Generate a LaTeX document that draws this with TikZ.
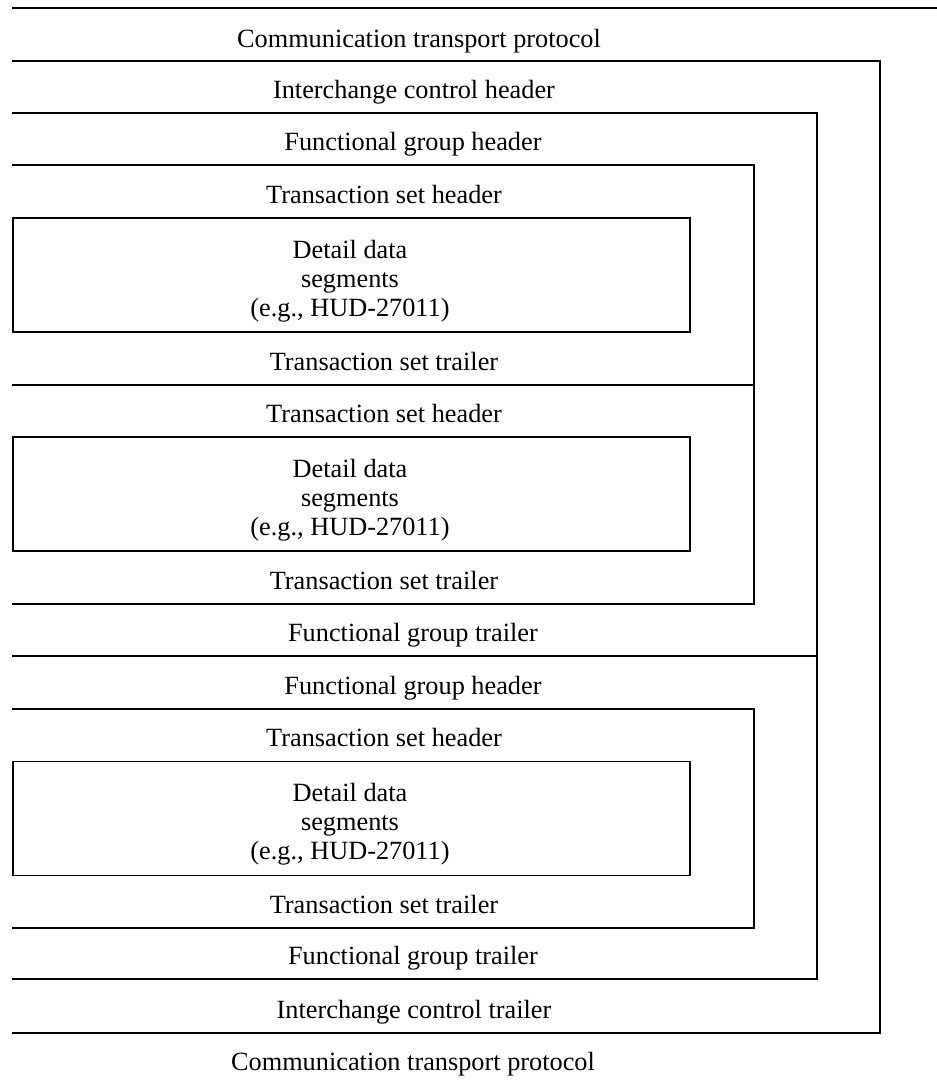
\documentclass[tikz,border=0pt]{standalone}
\usepackage{fontspec}
\setmainfont{Liberation Serif}
\begin{document}
\begin{tikzpicture}[x=1pt,y=-1pt,
  frame/.style={line width=1.4pt, line join=miter},
  lbl/.style={font=\fontsize{26.3}{29}\selectfont, anchor=base, inner sep=0pt},
  detailbox/.style={draw, line width=1.4pt, minimum width=677pt, minimum height=114pt, inner sep=0pt},
  detailtext/.style={font=\fontsize{26.3}{29}\selectfont, align=center, inner sep=0pt}]
\useasboundingbox (0,0) rectangle (937,1082);

% outer lines
\draw[frame] (12,8) -- (937,8);
% interchange
\draw[frame] (12,61) -- (880,61) -- (880,1033) -- (12,1033);
% functional groups
\draw[frame] (12,113) -- (817,113) -- (817,979) -- (12,979);
\draw[frame] (12,656) -- (817,656);
% transaction sets
\draw[frame] (12,165) -- (754,165) -- (754,604) -- (12,604);
\draw[frame] (12,385) -- (754,385);
\draw[frame] (12,709) -- (754,709) -- (754,928) -- (12,928);

% detail boxes
\node[detailbox] (d1) at (351.5,275) {};
\node[detailbox] (d2) at (351.5,494) {};
\node[detailbox] (d3) at (351.5,818.5) {};
\node[detailtext] (d1t) at (350,281) {Detail data\\segments\\(e.g., HUD-27011)};
\node[detailtext] (d2t) at (350,500) {Detail data\\segments\\(e.g., HUD-27011)};
\node[detailtext] (d3t) at (350,824.5) {Detail data\\segments\\(e.g., HUD-27011)};

% labels
\node[lbl] (ctp1) at (419,47) {Communication transport protocol};
\node[lbl] (ich) at (414,98.5) {Interchange control header};
\node[lbl] (fgh1) at (413,150.5) {Functional group header};
\node[lbl] (tsh1) at (384,203.5) {Transaction set header};
\node[lbl] (tst1) at (384,370.5) {Transaction set trailer};
\node[lbl] (tsh2) at (384,422.5) {Transaction set header};
\node[lbl] (tst2) at (384,589.5) {Transaction set trailer};
\node[lbl] (fgt1) at (413,641.5) {Functional group trailer};
\node[lbl] (fgh2) at (413,694.5) {Functional group header};
\node[lbl] (tsh3) at (384,746.5) {Transaction set header};
\node[lbl] (tst3) at (384,913.5) {Transaction set trailer};
\node[lbl] (fgt2) at (413,964.5) {Functional group trailer};
\node[lbl] (ict) at (414,1018.5) {Interchange control trailer};
\node[lbl] (ctp2) at (413,1070) {Communication transport protocol};
\end{tikzpicture}
\end{document}
